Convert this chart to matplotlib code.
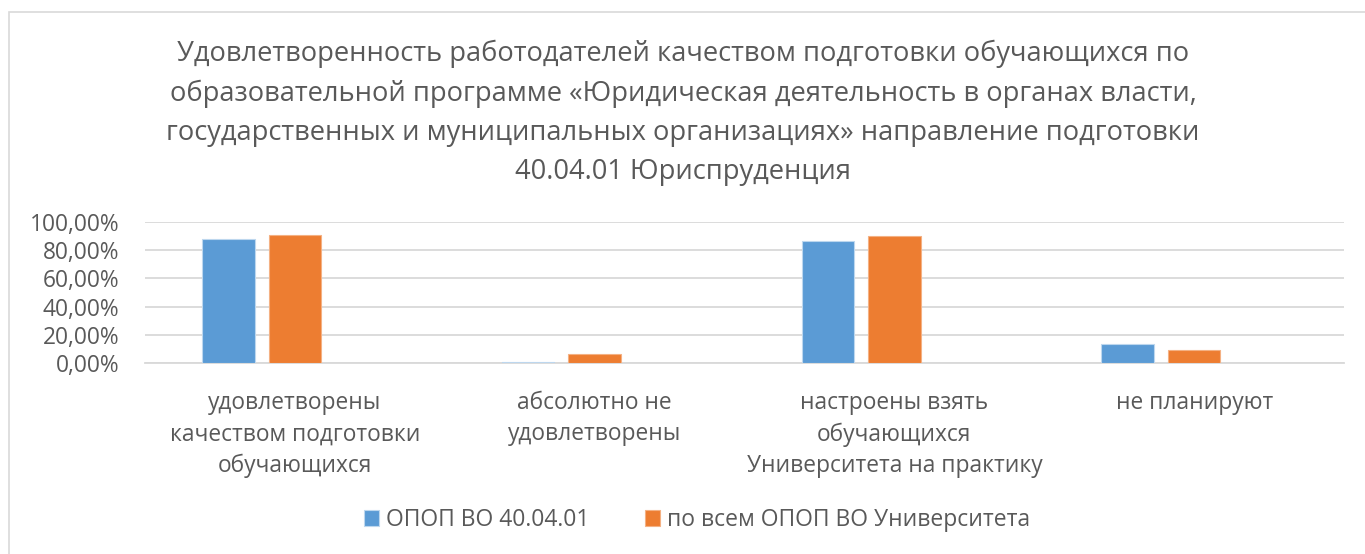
import matplotlib
matplotlib.use("Agg")
import matplotlib.pyplot as plt
from matplotlib.patches import Rectangle
import numpy as np

plt.rcParams['font.family'] = ['Open Sans', 'DejaVu Sans']

title = ("Удовлетворенность работодателей качеством подготовки обучающихся по\n"
         "образовательной программе «Юридическая деятельность в органах власти,\n"
         "государственных и муниципальных организациях» направление подготовки\n"
         "40.04.01 Юриспруденция")
categories = ["удовлетворены\nкачеством подготовки\nобучающихся",
              "абсолютно не\nудовлетворены",
              "настроены взять\nобучающихся\nУниверситета на практику",
              "не планируют"]
series_names = ["ОПОП ВО 40.04.01", "по всем ОПОП ВО Университета"]
opop = [0.880, 0.007, 0.861, 0.134]
univ = [0.908, 0.066, 0.898, 0.094]
yticks = [0, 0.2, 0.4, 0.6, 0.8, 1.0]
ytick_labels = ["0,00%", "20,00%", "40,00%", "60,00%", "80,00%", "100,00%"]

blue = "#5B9BD5"
orange = "#ED7D31"
txt = "#595959"
grid = "#D9D9D9"

W, H = 1365, 554
fig = plt.figure(figsize=(W / 100, H / 100), dpi=100)
fig.patch.set_facecolor("white")

# chart area frame
fig.patches.append(Rectangle((9 / W, -0.05), 1.2, 1 - 12 / H + 0.05,
                             transform=fig.transFigure, fill=False,
                             edgecolor="#D9D9D9", lw=1.2))

ax = fig.add_axes([145 / W, 1 - 363.3 / H, 1199 / W, (363.3 - 221.7) / H])
x = np.arange(len(categories))
bw = 0.175
step = 0.222
ax.bar(x - step, opop, bw, color=blue, edgecolor="#BDD7EE", lw=0.8, label=series_names[0], zorder=3)
ax.bar(x, univ, bw, color=orange, edgecolor="#F4B183", lw=0.8, label=series_names[1], zorder=3)

ax.set_xlim(-0.5, len(categories) - 0.5)
ax.set_ylim(0, 1.0)
ax.set_yticks(yticks)
ax.set_yticklabels(ytick_labels, fontsize=16.4, color=txt)
ax.yaxis.grid(True, color=grid, lw=1.3, zorder=0)
ax.set_axisbelow(True)
ax.tick_params(axis='y', length=0, pad=18.5)
ax.tick_params(axis='x', length=0, pad=20)
ax.set_xticks(x)
ax.set_xticklabels(categories, fontsize=16.4, color=txt, linespacing=1.4)
for s in ["top", "right", "left"]:
    ax.spines[s].set_visible(False)
ax.spines["bottom"].set_color(grid)
ax.spines["bottom"].set_linewidth(1.3)

fig.text(683 / W, 1 - 113 / H, title, ha="center", va="center",
         fontsize=19.6, color=txt, linespacing=1.54)

leg = fig.legend(loc="center", bbox_to_anchor=(697 / W, 1 - 520 / H), ncol=2,
                 frameon=False, fontsize=16.5, handlelength=0.65, handleheight=0.65,
                 handletextpad=0.3, columnspacing=2.45)
for t in leg.get_texts():
    t.set_color(txt)

fig.savefig("out.png", dpi=100, facecolor="white")
